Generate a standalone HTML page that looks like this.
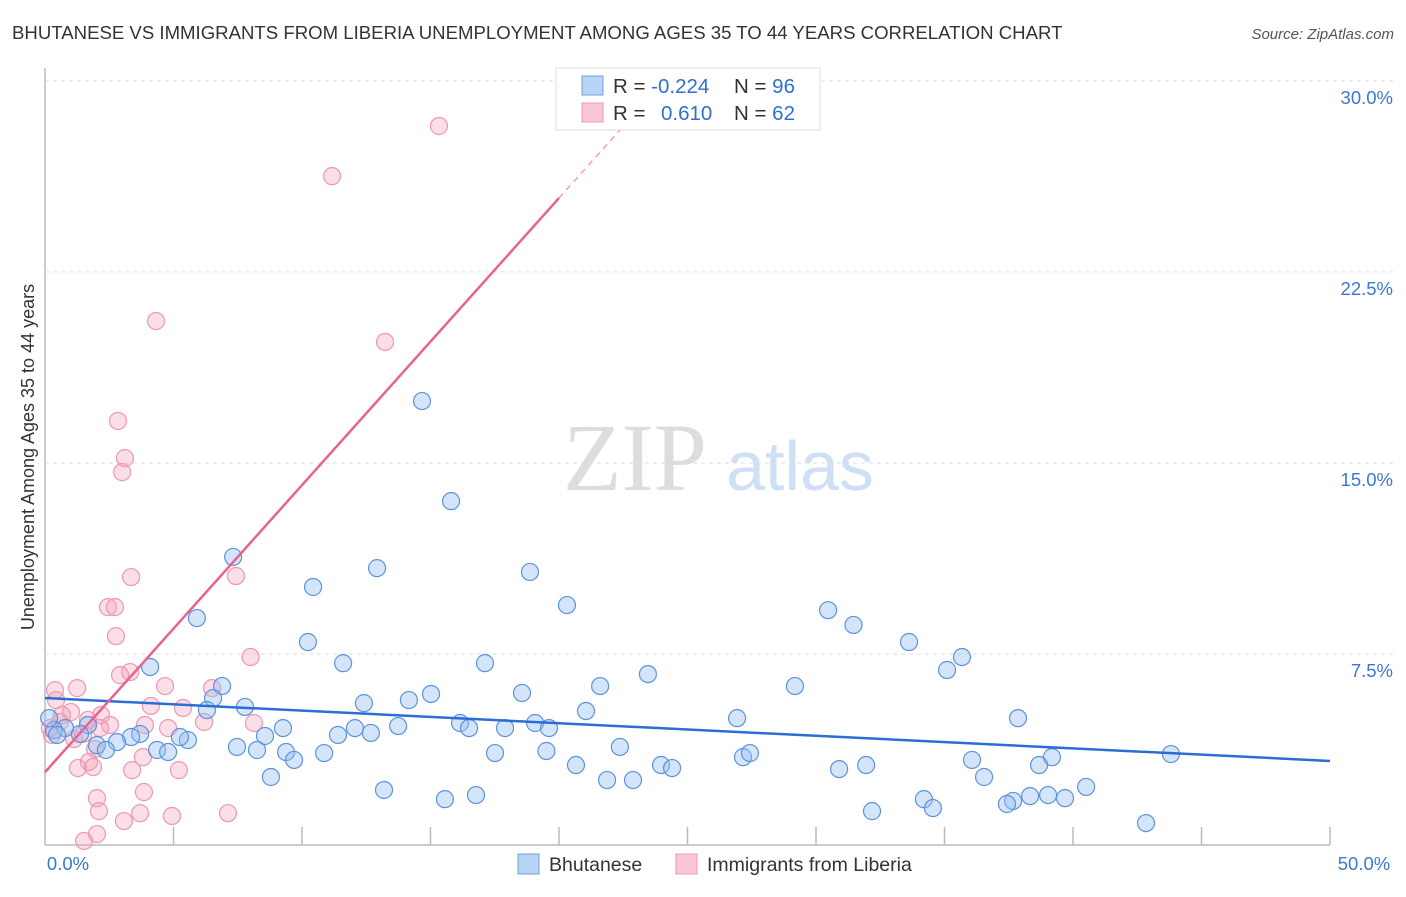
<!DOCTYPE html>
<html><head><meta charset="utf-8"><style>
body{margin:0;background:#fff;font-family:"Liberation Sans",sans-serif;}
</style></head><body>
<svg id="c" width="1406" height="892" xmlns="http://www.w3.org/2000/svg">
<text x="12" y="39" font-size="18.6" fill="#333">BHUTANESE VS IMMIGRANTS FROM LIBERIA UNEMPLOYMENT AMONG AGES 35 TO 44 YEARS CORRELATION CHART</text>
<text x="1394" y="39" font-size="15" fill="#555" font-style="italic" text-anchor="end">Source: ZipAtlas.com</text>
<text x="34" y="457" font-size="18" fill="#333" text-anchor="middle" transform="rotate(-90 34 457)">Unemployment Among Ages 35 to 44 years</text>
<g><text x="635" y="490" font-size="96" fill="#ddd" font-family="Liberation Serif,serif" text-anchor="middle">ZIP</text><text x="800" y="490" font-size="70" fill="#cfe0f5" text-anchor="middle">atlas</text></g>
<g id="grid"></g><g id="pts"></g><g id="trend"></g>
<g>
<rect x="556" y="68" width="264" height="62" fill="#fff" stroke="#ddd"/>
<rect x="582" y="76" width="21" height="19" fill="#b8d3f3" stroke="#6fa0e0"/>
<rect x="582" y="103" width="21" height="19" fill="#f9c8d6" stroke="#ec98b0"/>
<text x="613" y="93" font-size="20.5" fill="#333">R = <tspan fill="#2f6fd0">-0.224</tspan></text>
<text x="734" y="93" font-size="20.5" fill="#333">N = <tspan fill="#2f6fd0">96</tspan></text>
<text x="613" y="120" font-size="20.5" fill="#333">R = <tspan fill="#2f6fd0" x="661">0.610</tspan></text>
<text x="734" y="120" font-size="20.5" fill="#333">N = <tspan fill="#2f6fd0">62</tspan></text>
</g>
<g>
<rect x="518" y="854" width="21" height="20" fill="#b8d3f3" stroke="#6fa0e0"/>
<text x="549" y="871" font-size="19.5" fill="#333">Bhutanese</text>
<rect x="676" y="854" width="21" height="20" fill="#f9c8d6" stroke="#ec98b0"/>
<text x="707" y="871" font-size="19.5" fill="#333">Immigrants from Liberia</text>
</g>
</svg>
<script>
const yTicks=[7.5,15,22.5,30];
const yTickLabels=["7.5%","15.0%","22.5%","30.0%"];
const xTickVals=[0,5,10,15,20,25,30,35,40,45,50];
const blueX=[14.67,15.80,7.32,12.92,18.87,10.43,20.31,5.91,30.47,31.46,10.23,33.62,35.68,35.10,4.09,11.60,17.12,23.46,6.89,21.60,29.18,6.54,15.02,14.16,18.56,12.41,7.78,6.30,21.05,26.93,37.86,16.15,16.50,13.74,12.06,12.68,9.26,17.90,19.07,19.61,11.40,8.56,3.70,3.35,5.56,5.25,2.80,2.02,2.37,1.67,0.78,0.35,0.16,0.47,1.36,4.36,4.79,7.47,8.25,9.38,10.86,9.69,17.51,19.51,22.37,27.16,27.43,39.18,43.81,36.07,38.68,20.66,23.97,24.40,31.95,30.90,8.79,21.87,22.88,36.54,40.51,13.19,16.77,15.56,38.33,39.03,39.69,34.20,37.67,37.43,34.55,32.18,42.84];
const blueY=[17.43,13.50,11.31,10.87,10.72,10.13,9.42,8.91,9.22,8.64,7.97,7.97,7.38,6.87,6.99,7.14,7.14,6.71,6.24,6.24,6.24,5.77,5.93,5.69,5.97,5.57,5.42,5.30,5.26,4.98,4.98,4.79,4.59,4.67,4.59,4.40,4.59,4.59,4.79,4.59,4.32,4.28,4.36,4.24,4.12,4.24,4.04,3.92,3.73,4.71,4.59,4.51,4.98,4.32,4.36,3.73,3.65,3.85,3.73,3.65,3.61,3.34,3.61,3.69,3.85,3.45,3.61,3.45,3.57,3.34,3.14,3.14,3.14,3.02,3.14,2.98,2.67,2.55,2.55,2.67,2.28,2.16,1.96,1.80,1.92,1.96,1.84,1.80,1.73,1.61,1.45,1.33,0.86];
const pinkX=[15.33,11.17,4.32,13.23,2.84,3.11,3.00,3.35,7.43,2.45,2.72,2.76,8.00,2.92,3.31,4.67,6.50,0.39,1.25,4.12,5.37,0.43,1.01,2.18,8.13,3.89,4.79,6.19,2.53,1.67,0.58,0.19,1.48,1.13,1.95,3.81,1.71,1.28,3.39,5.21,1.87,3.85,2.02,2.10,3.70,3.07,4.94,7.12,2.02,1.52,2.14,0.66,0.27];
const pinkY=[28.23,26.26,20.57,19.75,16.65,15.19,14.64,10.52,10.56,9.34,9.34,8.20,7.38,6.67,6.79,6.24,6.16,6.08,6.16,5.46,5.38,5.69,5.22,5.10,4.79,4.71,4.59,4.83,4.71,4.91,4.83,4.59,4.36,4.16,3.77,3.45,3.26,3.02,2.94,2.94,3.06,2.08,1.84,1.33,1.25,0.94,1.14,1.25,0.43,0.16,4.59,5.10,4.32];
const blueTrend=[5.77,3.30];
const pinkTrend=[2.86,25.4];
const NS="http://www.w3.org/2000/svg";
const X=v=>45+v*25.7, Y=v=>845-v*25.47;
function mk(t,a,p){const e=document.createElementNS(NS,t);for(const k in a)e.setAttribute(k,a[k]);p.appendChild(e);return e;}
const g=document.getElementById('grid');
let ax=mk('line',{x1:45,y1:68,x2:45,y2:845,stroke:'#bbb','stroke-width':1.5},g);


let bx=mk('line',{x1:45,y1:845,x2:1330,y2:845,stroke:'#bbb','stroke-width':1.5},g);


yTicks.forEach((v,i)=>{
 const l=mk('line',{x1:45,y1:Y(v),x2:1394,y2:Y(v),stroke:'#ddd','stroke-dasharray':'4,4'},g);
 
 
 const t=mk('text',{x:1393,y:Y(v)+23,'font-size':18.5,fill:'#3a78d0','text-anchor':'end'},g);
 t.textContent=yTickLabels[i];
 
 
});
xTickVals.forEach(v=>{
 if(v===0)return;
 const l=mk('line',{x1:X(v),y1:827,x2:X(v),y2:845,stroke:'#bbb','stroke-width':1.5},g);
 
 
});
let x0=mk('text',{x:68,y:870,'font-size':18.5,fill:'#3a78d0','text-anchor':'middle'},g);x0.textContent='0.0%';


let x1=mk('text',{x:1364,y:870,'font-size':18.5,fill:'#3a78d0','text-anchor':'middle'},g);x1.textContent='50.0%';


const p=document.getElementById('pts');
pinkX.forEach((v,i)=>{const c=mk('circle',{cx:X(v),cy:Y(pinkY[i]),r:8.5,fill:'rgba(244,160,185,0.35)',stroke:'#ec98b0','stroke-width':1.2},p);
 
 });
blueX.forEach((v,i)=>{const c=mk('circle',{cx:X(v),cy:Y(blueY[i]),r:8.5,fill:'rgba(150,190,240,0.4)',stroke:'#5b93dc','stroke-width':1.2},p);
 
 });
const tr=document.getElementById('trend');
let bl=mk('line',{x1:X(0),y1:Y(blueTrend[0]),x2:X(50),y2:Y(blueTrend[1]),stroke:'#2a6dd6','stroke-width':2.5},tr);


const ps=(pinkTrend[1]-pinkTrend[0])/20;
let pl=mk('line',{x1:X(0),y1:Y(pinkTrend[0]),x2:X(20),y2:Y(pinkTrend[1]),stroke:'#e8638e','stroke-width':2.5},tr);


let pd=mk('line',{x1:X(20),y1:Y(pinkTrend[1]),x2:X(22.5),y2:Y(pinkTrend[0]+ps*22.5),stroke:'#f0a0b8','stroke-width':1.5,'stroke-dasharray':'6,5'},tr);


</script>
</body></html>
